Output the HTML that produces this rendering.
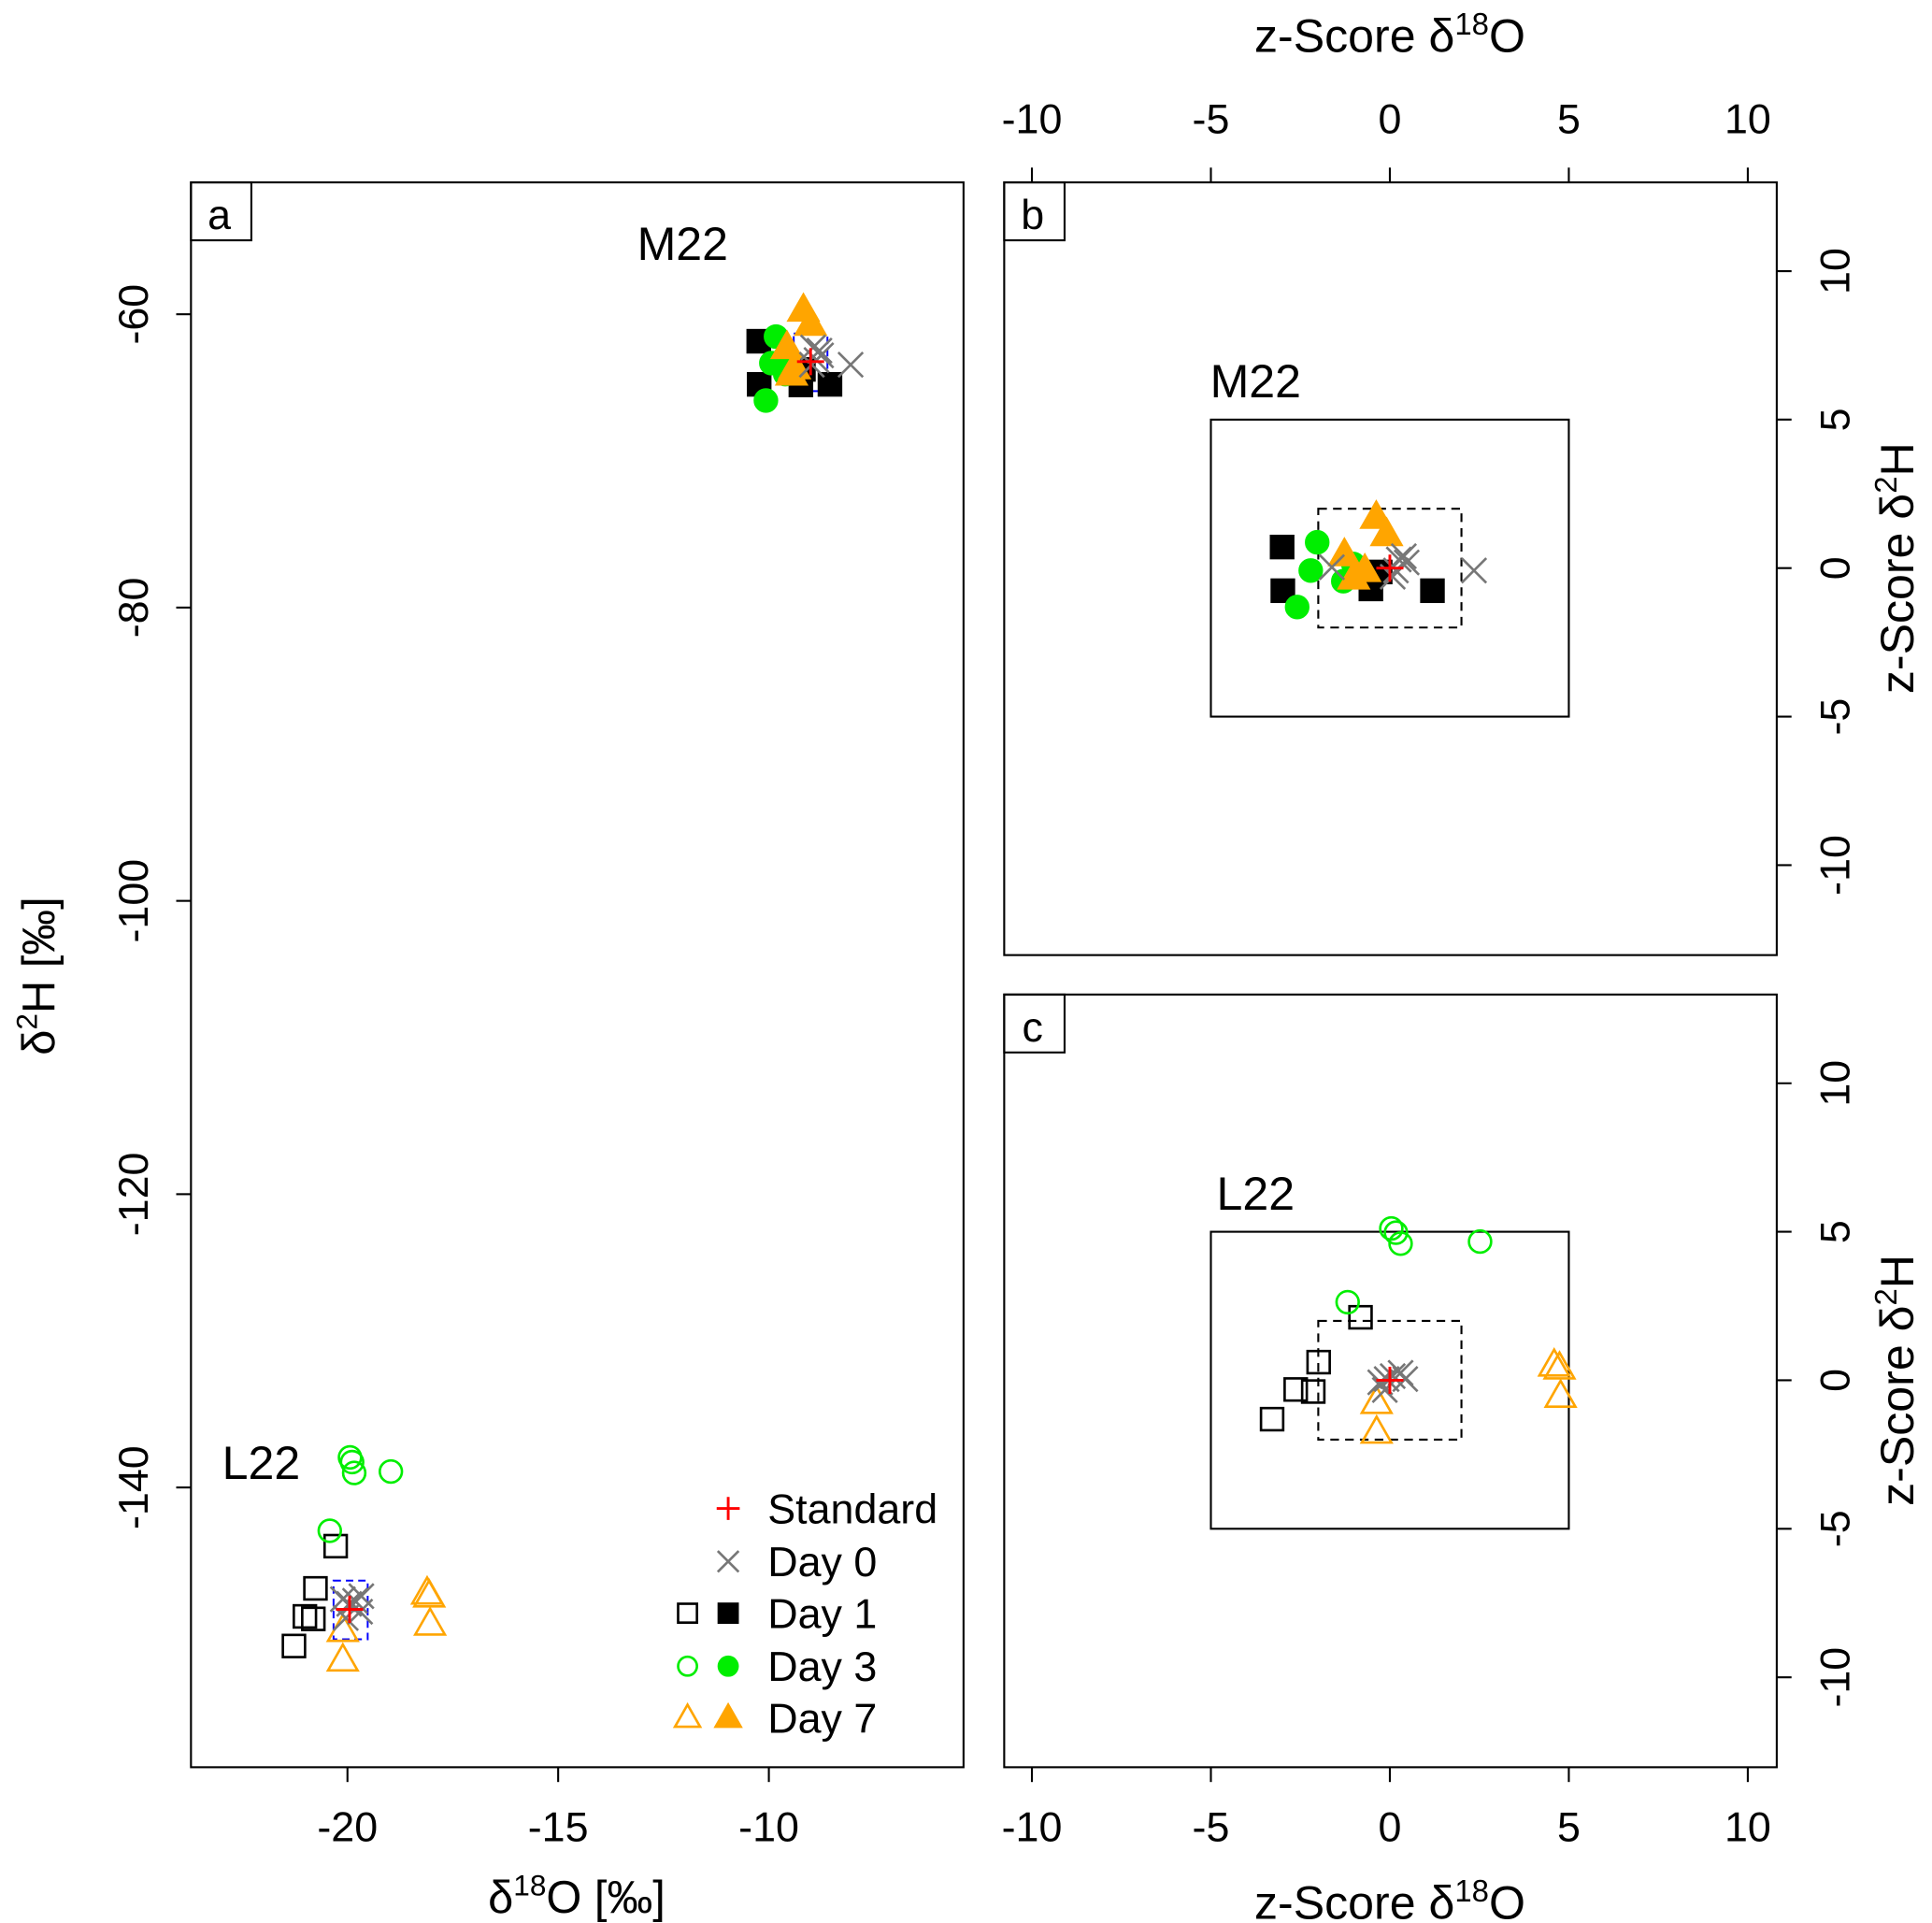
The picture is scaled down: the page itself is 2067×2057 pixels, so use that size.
<!DOCTYPE html>
<html><head><meta charset="utf-8"><style>
html,body{margin:0;padding:0;background:#fff;}
svg{display:block;font-family:"Liberation Sans",Arial,sans-serif;}
</style></head><body>
<svg id="fig" width="2067" height="2057" viewBox="0 0 1568 1560.4" preserveAspectRatio="none" xmlns="http://www.w3.org/2000/svg"></svg>
<script>
// ---------- Panel a data (per mil) ----------
const aM22_day1_x=[-10.24,-10.23,-9.24,-8.55,-9.18];
const aM22_day1_y=[-61.84,-64.78,-64.82,-64.78,-63.76];
const aM22_day3_x=[-9.83,-9.94,-9.61,-10.07,-9.61];
const aM22_day3_y=[-61.52,-63.33,-64.08,-65.88,-62.91];
const aM22_day7_x=[-9.18,-9.01,-9.57,-9.39,-9.46];
const aM22_day7_y=[-59.72,-60.68,-62.27,-63.65,-64.08];
const aM22_day0_x=[-8.95,-8.80,-8.87,-8.98,-8.06,-8.76];
const aM22_day0_y=[-62.27,-62.48,-63.12,-63.44,-63.44,-62.80];
const aM22_std=[-9.01,-63.23];
const aM22_box=[-9.41,-8.61,-61.31,-65.24];
const aL22_day1_x=[-20.28,-20.76,-21.01,-20.81,-21.27];
const aL22_day1_y=[-144.00,-146.88,-148.79,-148.96,-150.81];
const aL22_day3_x=[-19.94,-19.89,-19.84,-18.97,-20.42];
const aL22_day3_y=[-137.95,-138.27,-139.01,-138.91,-142.95];
const aL22_day7_x=[-18.11,-18.06,-18.04,-20.11,-20.11];
const aL22_day7_y=[-147.2,-147.4,-149.32,-149.75,-151.77];
const aL22_day0_x=[-20.11,-19.96,-19.82,-19.67,-19.70,-20.04];
const aL22_day0_y=[-147.62,-147.94,-147.73,-147.41,-148.47,-148.90];
const aL22_std=[-19.95,-148.31];
const aL22_box=[-20.33,-19.52,-146.35,-150.35];
const aXTicks=[-20,-15,-10];
const aYTicks=[-60,-80,-100,-120,-140];
// ---------- Panel b data (z-scores, M22) ----------
const bDay1_x=[-3.01,-2.99,-0.53,-0.27,1.19];
const bDay1_y=[0.71,-0.76,-0.70,-0.13,-0.76];
const bDay3_x=[-2.03,-2.21,-2.59,-1.30,-1.02];
const bDay3_y=[0.87,-0.08,-1.31,-0.44,0.14];
const bDay7_x=[-0.38,-0.09,-1.27,-0.70,-1.01];
const bDay7_y=[1.71,1.13,0.45,-0.08,-0.33];
const bDay0_x=[-1.62,0.25,0.39,0.47,0.17,0.08,2.35];
const bDay0_y=[0.03,0.29,0.40,0.19,-0.08,-0.29,-0.08];
// ---------- Panel c data (z-scores, L22) ----------
const cDay1_x=[-0.82,-1.99,-2.63,-2.14,-3.29];
const cDay1_y=[2.12,0.61,-0.31,-0.38,-1.31];
const cDay3_x=[0.04,0.17,0.30,2.52,-1.18];
const cDay3_y=[5.11,4.97,4.60,4.67,2.63];
const cDay7_x=[4.59,4.74,4.77,-0.37,-0.37];
const cDay7_y=[0.51,0.41,-0.54,-0.75,-1.75];
const cDay0_x=[-0.27,-0.09,0.08,0.30,0.43,-0.14];
const cDay0_y=[-0.07,0.04,0.14,0.25,0.04,-0.33];
const zTicks=[-10,-5,0,5,10];

const svg=document.getElementById('fig');
const NS='http://www.w3.org/2000/svg';
function mk(tag,attrs,name,parent){
  const e=document.createElementNS(NS,tag);
  for(const k in attrs)e.setAttribute(k,attrs[k]);
  
  
  (parent||svg).appendChild(e);return e;
}
function txt(x,y,s,size,name,rot,anchor,parent){
  const t=mk('text',{x:x,y:y,'font-size':size,'text-anchor':anchor||'middle',fill:'#000'},name,parent);
  if(rot)t.setAttribute('transform','rotate('+rot+' '+x+' '+y+')');
  t.innerHTML=s;return t;
}
function sx(lin){return v=>lin.p0+(v-lin.v0)*lin.k;}
const aX=sx({v0:-20,p0:282,k:34.2}), aY=sx({v0:-60,p0:255,k:-11.9});
const bX=sx({v0:0,p0:1128,k:29.05}), bY=sx({v0:0,p0:461,k:-24.1});
const cX=bX, cY=sx({v0:0,p0:1120,k:-24.1});

function marker(type,x,y,g,s){
  s=s||1;
  if(type==='sqf'||type==='sqo'){const h=9*s;
    mk('rect',{x:x-h,y:y-h,width:2*h,height:2*h,fill:type==='sqf'?'#000':'none',stroke:'#000','stroke-width':2},'day1-point',g);}
  else if(type==='cif'||type==='cio'){
    mk('circle',{cx:x,cy:y,r:9*s,fill:type==='cif'?'#00ee00':'none',stroke:'#00ee00','stroke-width':2},'day3-point',g);}
  else if(type==='trf'||type==='tro'){const h=12*s;
    mk('polygon',{points:(x)+','+(y-h*1.05)+' '+(x-h)+','+(y+h*0.7)+' '+(x+h)+','+(y+h*0.7),fill:type==='trf'?'#ffa500':'none',stroke:'#ffa500','stroke-width':2},'day7-point',g);}
  else if(type==='x'){const h=10*s;
    mk('path',{d:'M'+(x-h)+' '+(y-h)+'L'+(x+h)+' '+(y+h)+'M'+(x-h)+' '+(y+h)+'L'+(x+h)+' '+(y-h),stroke:'#777','stroke-width':2,fill:'none'},'day0-point',g);}
  else if(type==='plus'){const h=11*s;
    mk('path',{d:'M'+(x-h)+' '+y+'L'+(x+h)+' '+y+'M'+x+' '+(y-h)+'L'+x+' '+(y+h),stroke:'#ff0000','stroke-width':2.2,fill:'none'},'standard-point',g);}
}
function series(type,xs,ys,X,Y,g){for(let i=0;i<xs.length;i++)marker(type,X(xs[i]),Y(ys[i]),g);}

// ---- Panel a ----
const ga=mk('g',{},'panel-a');
mk('rect',{x:155,y:148,width:627,height:1286,fill:'none',stroke:'#000','stroke-width':1.6},'panel-a-frame',ga);
mk('rect',{x:155,y:148,width:49,height:47,fill:'none',stroke:'#000','stroke-width':1.6},'panel-a-label-box',ga);
txt(178,186,'a',34,'panel-a-label',0,'middle',ga);
aXTicks.forEach(v=>{const x=aX(v);mk('line',{x1:x,y1:1434,x2:x,y2:1446,stroke:'#000','stroke-width':1.6},'x-tick',ga);
  txt(x,1494,String(v),34,'x-tick-label',0,'middle',ga);});
aYTicks.forEach(v=>{const y=aY(v);mk('line',{x1:143,y1:y,x2:155,y2:y,stroke:'#000','stroke-width':1.6},'y-tick',ga);
  txt(120,y,String(v),34,'y-tick-label',-90,'middle',ga);});
txt(468,1552,'δ<tspan dy="-14" font-size="24">18</tspan><tspan dy="14">O [‰]</tspan>',37,'x-axis-title',0,'middle',ga);
txt(44,792,'δ<tspan dy="-14" font-size="24">2</tspan><tspan dy="14">H [‰]</tspan>',37,'y-axis-title',-90,'middle',ga);
txt(554,211,'M22',38,'m22-label',0,'middle',ga);
txt(212,1200,'L22',38,'l22-label',0,'middle',ga);
[aM22_box,aL22_box].forEach(b=>{
  mk('rect',{x:aX(b[0]),y:aY(b[2]),width:aX(b[1])-aX(b[0]),height:aY(b[3])-aY(b[2]),fill:'none',stroke:'#0000ff','stroke-width':1.5,'stroke-dasharray':'6,4'},'tolerance-box',ga);});
series('sqf',aM22_day1_x,aM22_day1_y,aX,aY,ga);
series('cif',aM22_day3_x,aM22_day3_y,aX,aY,ga);
series('trf',aM22_day7_x,aM22_day7_y,aX,aY,ga);
series('x',aM22_day0_x,aM22_day0_y,aX,aY,ga);
marker('plus',aX(aM22_std[0]),aY(aM22_std[1]),ga);
series('sqo',aL22_day1_x,aL22_day1_y,aX,aY,ga);
series('cio',aL22_day3_x,aL22_day3_y,aX,aY,ga);
series('tro',aL22_day7_x,aL22_day7_y,aX,aY,ga);
series('x',aL22_day0_x,aL22_day0_y,aX,aY,ga);
marker('plus',aX(aL22_std[0]),aY(aL22_std[1]),ga);
const lg=mk('g',{},'legend',ga);
const legRows=[['Standard',null,'plus',1224],['Day 0',null,'x',1267],['Day 1','sqo','sqf',1309],['Day 3','cio','cif',1352],['Day 7','tro','trf',1394]];
legRows.forEach(r=>{if(r[1])marker(r[1],558,r[3],lg,0.85);marker(r[2],591,r[3],lg,0.85);
  txt(623,r[3]+12,r[0],34,'legend-entry',0,'start',lg);});

// ---- Panels b and c ----
function zpanel(id,top,X,Y,name,d1x,d1y,d3x,d3y,d7x,d7y,d0x,d0y,filled){
  const g=mk('g',{},'panel-'+id);
  mk('rect',{x:815,y:top,width:627,height:627,fill:'none',stroke:'#000','stroke-width':1.6},'panel-'+id+'-frame',g);
  mk('rect',{x:815,y:top,width:49,height:47,fill:'none',stroke:'#000','stroke-width':1.6},'panel-'+id+'-label-box',g);
  txt(838,top+38,id,34,'panel-'+id+'-label',0,'middle',g);
  mk('rect',{x:X(-5),y:Y(5),width:X(5)-X(-5),height:Y(-5)-Y(5),fill:'none',stroke:'#000','stroke-width':1.6},'five-sigma-box',g);
  mk('rect',{x:X(-2),y:Y(2),width:X(2)-X(-2),height:Y(-2)-Y(2),fill:'none',stroke:'#000','stroke-width':1.6,'stroke-dasharray':'7,5'},'two-sigma-box',g);
  txt(1019,Y(5)-18,name,38,name.toLowerCase()+'-label',0,'middle',g);
  zTicks.forEach(v=>{const y=Y(v);mk('line',{x1:1442,y1:y,x2:1454,y2:y,stroke:'#000','stroke-width':1.6},'right-y-tick',g);
    txt(1501,y,String(v),34,'right-y-tick-label',-90,'middle',g);});
  txt(1553,Y(0),'z-Score δ<tspan dy="-14" font-size="25">2</tspan><tspan dy="14">H</tspan>',38,'right-y-axis-title',-90,'middle',g);
  const f=filled;
  series(f?'sqf':'sqo',d1x,d1y,X,Y,g);
  series(f?'cif':'cio',d3x,d3y,X,Y,g);
  series(f?'trf':'tro',d7x,d7y,X,Y,g);
  series('x',d0x,d0y,X,Y,g);
  marker('plus',X(0),Y(0),g);
  return g;
}
const gb=zpanel('b',148,bX,bY,'M22',bDay1_x,bDay1_y,bDay3_x,bDay3_y,bDay7_x,bDay7_y,bDay0_x,bDay0_y,true);
const gc=zpanel('c',807,cX,cY,'L22',cDay1_x,cDay1_y,cDay3_x,cDay3_y,cDay7_x,cDay7_y,cDay0_x,cDay0_y,false);
zTicks.forEach(v=>{const x=bX(v);
  mk('line',{x1:x,y1:148,x2:x,y2:136,stroke:'#000','stroke-width':1.6},'top-x-tick',gb);
  txt(x,108,String(v),34,'top-x-tick-label',0,'middle',gb);
  mk('line',{x1:x,y1:1434,x2:x,y2:1446,stroke:'#000','stroke-width':1.6},'bottom-x-tick',gc);
  txt(x,1494,String(v),34,'bottom-x-tick-label',0,'middle',gc);});
txt(1128,42,'z-Score δ<tspan dy="-14" font-size="25">18</tspan><tspan dy="14">O</tspan>',38,'top-x-axis-title',0,'middle',gb);
txt(1128,1557,'z-Score δ<tspan dy="-14" font-size="25">18</tspan><tspan dy="14">O</tspan>',38,'bottom-x-axis-title',0,'middle',gc);
</script>
</body></html>
